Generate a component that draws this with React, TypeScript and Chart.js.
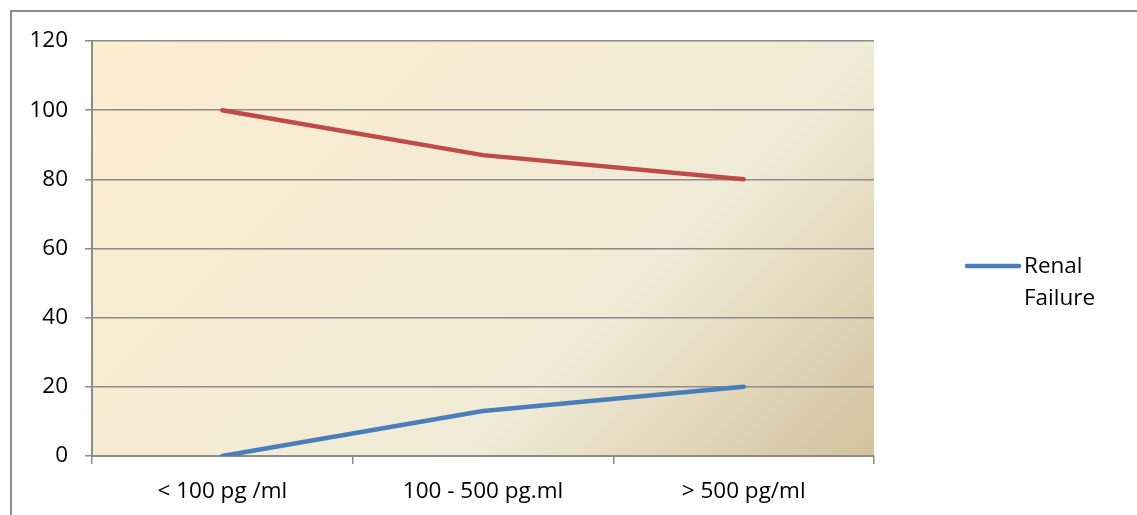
import React, { useEffect, useRef } from "react";
import { Chart, registerables } from "chart.js";

Chart.register(...registerables);

const categories = ["< 100 pg /ml", "100 - 500 pg.ml", "> 500 pg/ml"];
const renalFailure = [0, 13, 20];
const otherSeries = [100, 87, 80];
const yTicks = [0, 20, 40, 60, 80, 100, 120];
const legendLabel = ["Renal", "Failure"];

const FONT = "'Open Sans', Lato, sans-serif";
const FSIZE = 22.5;

const framePlugin = {
  id: "frame",
  beforeDraw(chart: any) {
    const { ctx, chartArea } = chart;
    ctx.save();
    ctx.fillStyle = "#ffffff";
    ctx.fillRect(0, 0, chart.width, chart.height);
    ctx.strokeStyle = "#8c8c8c";
    ctx.lineWidth = 2;
    ctx.beginPath();
    ctx.moveTo(11, chart.height + 5);
    ctx.lineTo(11, 11);
    ctx.lineTo(chart.width + 5, 11);
    ctx.stroke();
    const w = chartArea.right - chartArea.left;
    const h = chartArea.bottom - chartArea.top;
    const d = (w + h) / 2;
    const g = ctx.createLinearGradient(chartArea.left, chartArea.top, chartArea.left + d, chartArea.top + d);
    g.addColorStop(0, "#FEEDD1");
    g.addColorStop(0.35, "#F6EBD2");
    g.addColorStop(0.66, "#F0EBD7");
    g.addColorStop(1, "#D3C29C");
    ctx.fillStyle = g;
    ctx.fillRect(chartArea.left, chartArea.top, w, h);
    ctx.restore();
  },
  afterDraw(chart: any) {
    const { ctx } = chart;
    ctx.save();
    ctx.strokeStyle = "#4A7EBB";
    ctx.lineWidth = 4.5;
    ctx.lineCap = "round";
    ctx.beginPath();
    ctx.moveTo(967, 266);
    ctx.lineTo(1019, 266);
    ctx.stroke();
    ctx.fillStyle = "#000000";
    ctx.font = `${FSIZE}px ${FONT}`;
    ctx.textBaseline = "middle";
    ctx.textAlign = "left";
    ctx.fillText(legendLabel[0], 1024, 267);
    ctx.fillText(legendLabel[1], 1024, 299);
    ctx.restore();
  },
};

export default function App() {
  const ref = useRef<HTMLCanvasElement | null>(null);
  useEffect(() => {
    if (!ref.current) return;
    const chart = new Chart(ref.current, {
      type: "line",
      data: {
        labels: categories,
        datasets: [
          {
            label: "Renal Failure",
            data: renalFailure,
            borderColor: "#4A7EBB",
            backgroundColor: "#4A7EBB",
            borderWidth: 4.5,
            pointRadius: 0,
            borderCapStyle: "round",
            borderJoinStyle: "round",
            tension: 0,
          },
          {
            label: "Other",
            data: otherSeries,
            borderColor: "#BE4B48",
            backgroundColor: "#BE4B48",
            borderWidth: 4.5,
            pointRadius: 0,
            borderCapStyle: "round",
            borderJoinStyle: "round",
            tension: 0,
          },
        ],
      },
      options: {
        animation: false,
        responsive: false,
        maintainAspectRatio: false,
        layout: { padding: { top: 41, right: 263, left: 0, bottom: 0 } },
        plugins: { legend: { display: false }, tooltip: { enabled: false } },
        scales: {
          x: {
            offset: true,
            grid: { offset: true, drawOnChartArea: false, drawTicks: true, tickLength: 8, color: "#8c8c8c", lineWidth: 1.5 },
            border: { display: true, color: "#8c8c8c", width: 2 },
            ticks: { color: "#000000", font: { family: FONT, size: FSIZE }, padding: 14, maxRotation: 0 },
            afterFit(scale: any) {
              scale.height = 59;
            },
          },
          y: {
            min: 0,
            max: 120,
            afterBuildTicks(scale: any) {
              scale.ticks = yTicks.map((v) => ({ value: v }));
            },
            grid: { color: "#8c8c8c", lineWidth: 1.5, tickLength: 7, drawTicks: true },
            border: { display: true, color: "#8c8c8c", width: 2 },
            ticks: { color: "#000000", font: { family: FONT, size: FSIZE }, padding: 17 },
            afterFit(scale: any) {
              scale.width = 92;
            },
          },
        },
      },
      plugins: [framePlugin],
    } as any);
    return () => chart.destroy();
  }, []);
  return (
    <div style={{ position: "fixed", left: 0, top: 0, width: 1137, height: 515 }}>
      <canvas ref={ref} width={1137} height={515} style={{ width: 1137, height: 515 }} />
    </div>
  );
}
